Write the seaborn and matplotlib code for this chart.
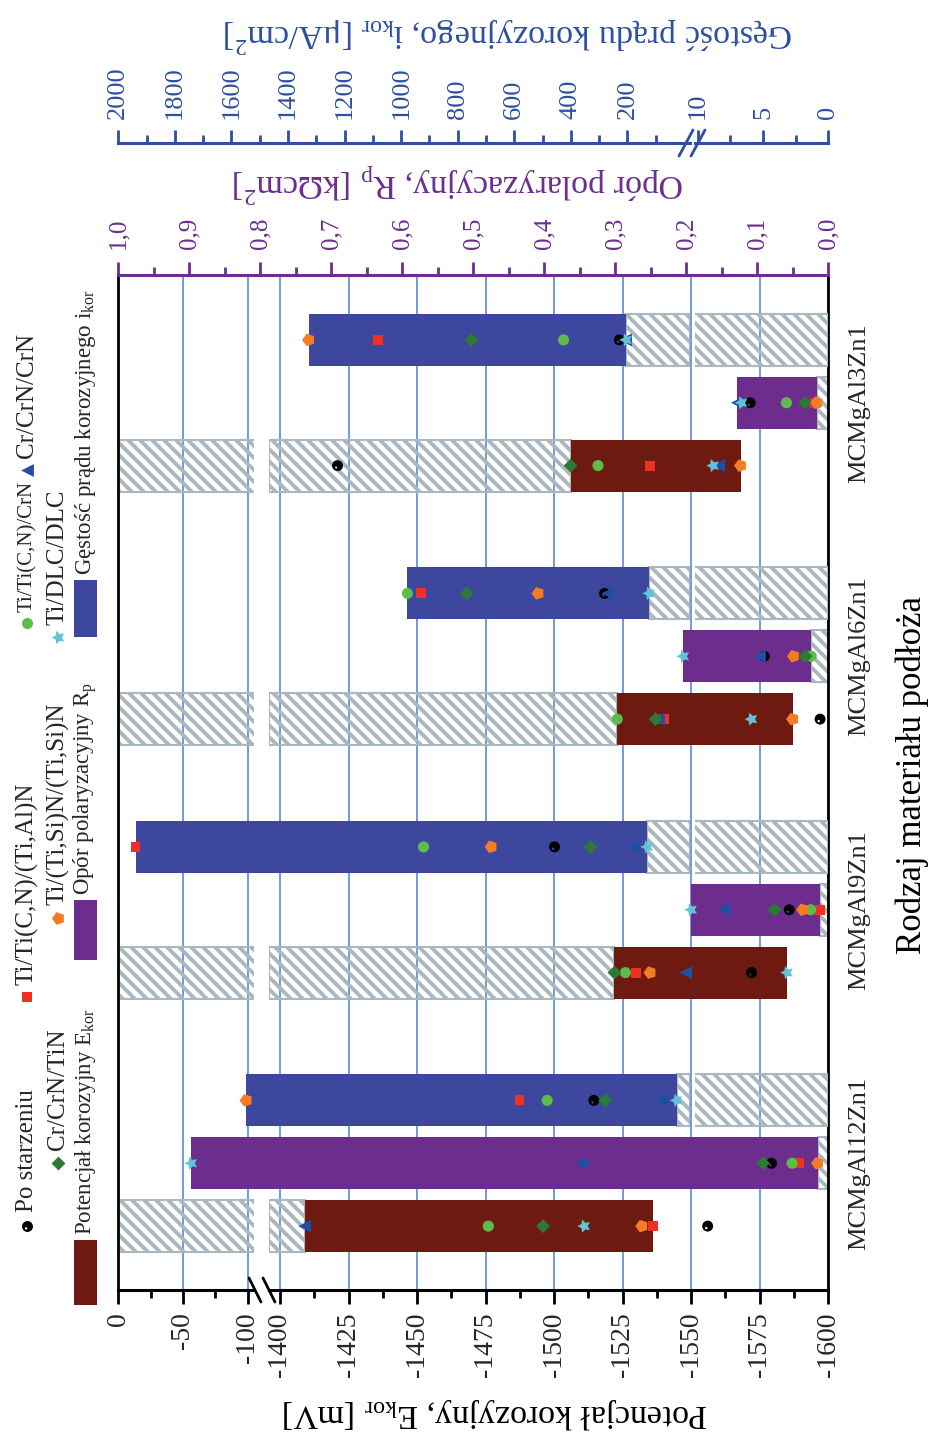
import matplotlib
matplotlib.use("Agg")
import matplotlib.pyplot as plt
from matplotlib.path import Path
from matplotlib.patches import Rectangle
from matplotlib.ticker import FixedLocator, FuncFormatter
import numpy as np
import pandas as pd
import seaborn as sns

materials = ["MCMgAl12Zn1", "MCMgAl9Zn1", "MCMgAl6Zn1", "MCMgAl3Zn1"]
coatings = ["Po starzeniu", "Ti/Ti(C,N)/(Ti,Al)N", "Ti/Ti(C,N)/CrN", "Cr/CrN/CrN",
            "Cr/CrN/TiN", "Ti/(Ti,Si)N/(Ti,Si)N", "Ti/DLC/DLC"]

# corrosion potential E_kor [mV], one value per entry of `coatings`
ekor_al12 = [-1556, -1536, -1476, -1409, -1496, -1532, -1511]
ekor_al9 = [-1572, -1530, -1526, -1548, -1522, -1535, -1585]
ekor_al6 = [-1597, -1540, -1523, -1538, -1537, -1587, -1572]
ekor_al3 = [-1421, -1535, -1516, -1560, -1506, -1568, -1558]

# polarisation resistance R_p [kOhm cm2]
rp_al12 = [0.080, 0.041, 0.051, 0.348, 0.092, 0.015, 0.897]
rp_al9 = [0.055, 0.012, 0.025, 0.147, 0.076, 0.036, 0.193]
rp_al6 = [0.090, 0.028, 0.024, 0.097, 0.032, 0.049, 0.204]
rp_al3 = [0.110, 0.019, 0.059, 0.128, 0.033, 0.016, 0.122]

# corrosion current density i_kor [uA/cm2]
ikor_al12 = [319, 582, 484, 79, 278, 1548, 26]
ikor_al9 = [458, 1939, 921, 179, 331, 682, 130]
ikor_al6 = [281, 930, 978, 269, 768, 516, 123]
ikor_al3 = [229, 1082, 426, 207, 752, 1327, 204]

# ---------------------------------------------------------------- styling
DPI = 72
P = 100 / DPI          # sizes below are tuned in 1/100-inch pixels
sns.set_theme(style="white")
plt.rcParams["font.family"] = ["Liberation Serif", "DejaVu Serif"]
plt.rcParams["mathtext.fontset"] = "custom"
plt.rcParams["mathtext.rm"] = "Liberation Serif"
plt.rcParams["axes.unicode_minus"] = False
plt.rcParams["hatch.linewidth"] = 3.8

BROWN, PURPLE, BLUE = "#6e1a10", "#6c2d8c", "#3d479d"
AX_PURPLE, AX_BLUE = "#6c2d90", "#2c4fa3"
GRID = "#4a7ed6"
HATCH = "#abb7bf"

# aged-sample marker: black ball with a small highlight
ball = Path.circle((0, 0), 1.0)
spot = Path.circle((-0.25, -0.35), 0.22)
ball_marker = Path(np.concatenate([ball.vertices, spot.vertices[::-1]]),
                   np.concatenate([ball.codes, spot.codes]))

palette = dict(zip(coatings, ["#000000", "#ef3124", "#5cbd4a", "#1f4ea6",
                              "#2c7a35", "#f67b22", "#5fc4d8"]))
markers = dict(zip(coatings, [ball_marker, "s", "o", "<", "D", (5, 0, 90), (5, 1, 90)]))
sizes = {k: v * P * P for k, v in
         zip(coatings, [62, 50, 64, 85, 50, 90, 100])}

bar_h = 0.205
W, H = 931, 1434
Y_TOP, Y_BOT = 275, 1290


def tidy(rows, offset):
    frames = [pd.DataFrame({"material": materials[m], "coating": coatings,
                            "value": vals, "pos": m + offset})
              for m, vals in enumerate(rows)]
    return pd.concat(frames, ignore_index=True)


ekor = tidy([ekor_al12, ekor_al9, ekor_al6, ekor_al3], -0.248)
rp = tidy([rp_al12, rp_al9, rp_al6, rp_al3], 0.0)
ikor = tidy([ikor_al12, ikor_al9, ikor_al6, ikor_al3], 0.248)

fig = plt.figure(figsize=(W / DPI, H / DPI), dpi=DPI)


def rect(x0, x1):
    return [x0 / W, 1 - Y_BOT / H, (x1 - x0) / W, (Y_BOT - Y_TOP) / H]


ax_e_hi = fig.add_axes(rect(118.3, 254))
ax_e_lo = fig.add_axes(rect(269, 828.3))
ax_rp = fig.add_axes(rect(118.3, 828.3))
ax_i_hi = fig.add_axes(rect(118.3, 690))
ax_i_lo = fig.add_axes(rect(695, 828.3))
all_axes = (ax_e_hi, ax_e_lo, ax_rp, ax_i_hi, ax_i_lo)

for ax in all_axes:
    ax.set_facecolor("none")
    for s in ax.spines.values():
        s.set_visible(False)


def draw_quantity(axes, df, face):
    """Floating bar over the coating range, hatched from the segment start."""
    coated = df[df["coating"] != coatings[0]]
    g = coated.groupby("pos")["value"]
    lo, hi = g.min(), g.max()
    pos = lo.index.values
    first_small = np.abs(lo.values) < np.abs(hi.values)
    near = np.where(first_small, lo.values, hi.values)
    far = np.where(first_small, hi.values, lo.values)
    for ax, lims in axes:
        seg_start = min(lims, key=abs)
        ax.set_xlim(*lims)
        ax.barh(pos, near - seg_start, left=seg_start, height=bar_h,
                facecolor="none", edgecolor=HATCH, hatch="\\\\",
                linewidth=1.5 * P, zorder=2)
        ax.barh(pos, far - near, left=near, height=bar_h, color=face,
                linewidth=0, zorder=3)
        a, b = sorted(lims)
        sel = df[(df["value"] >= a) & (df["value"] <= b)]
        if len(sel):
            sns.scatterplot(data=sel, x="value", y="pos", hue="coating",
                            style="coating", size="coating", palette=palette,
                            markers=markers, sizes=sizes, linewidth=0,
                            legend=False, ax=ax, zorder=5, clip_on=False)
        ax.set_xlim(*lims)
        ax.set_xlabel("")
        ax.set_ylabel("")
        ax.set_yticks([])


draw_quantity([(ax_e_hi, (0, -105)), (ax_e_lo, (-1396, -1600))], ekor, BROWN)
draw_quantity([(ax_rp, (1.0, 0.0))], rp, PURPLE)
draw_quantity([(ax_i_hi, (2000, -21)), (ax_i_lo, (10.2, 0))], ikor, BLUE)

for ax in all_axes:
    ax.set_ylim(-0.5, 3.504)

# ------------------------------------------------- E_kor axis (bottom, broken)
ax_e_hi.xaxis.set_major_locator(FixedLocator([0, -50, -100]))
ax_e_hi.xaxis.set_minor_locator(FixedLocator([-25, -75]))
ax_e_lo.xaxis.set_major_locator(FixedLocator(np.arange(-1400, -1601, -25)))
ax_e_lo.xaxis.set_minor_locator(FixedLocator(np.arange(-1412.5, -1600, -25)))
for ax in (ax_e_hi, ax_e_lo):
    ax.spines["bottom"].set_visible(True)
    ax.spines["bottom"].set_color("black")
    ax.spines["bottom"].set_linewidth(2.2 * P)
    ax.xaxis.set_major_formatter(FuncFormatter(lambda v, p: f"{v:.0f}"))
    ax.tick_params(axis="x", which="major", direction="out", length=10 * P,
                   width=2 * P, color="black", labelsize=20 * P, pad=6 * P,
                   labelrotation=90, bottom=True, top=False)
    ax.tick_params(axis="x", which="minor", direction="out", length=6 * P,
                   width=2 * P, color="black", bottom=True, top=False)
    ax.grid(axis="x", which="major", color=GRID, linewidth=1.1 * P)
    ax.set_axisbelow(True)

# ----------------------------------------------------- R_p axis (top, purple)
ax_rp.xaxis.tick_top()
ax_rp.xaxis.set_major_locator(FixedLocator(np.round(np.arange(0, 1.01, 0.1), 2)))
ax_rp.xaxis.set_minor_locator(FixedLocator(np.round(np.arange(0.05, 1.0, 0.1), 3)))
ax_rp.xaxis.set_major_formatter(FuncFormatter(lambda v, p: f"{v:.1f}".replace(".", ",")))
ax_rp.spines["top"].set_visible(True)
ax_rp.spines["top"].set_color(AX_PURPLE)
ax_rp.spines["top"].set_linewidth(2.2 * P)
for side in ("left", "right"):
    ax_rp.spines[side].set_visible(True)
    ax_rp.spines[side].set_color("black")
    ax_rp.spines[side].set_linewidth(2.0 * P)
ax_rp.tick_params(axis="x", which="major", direction="out", length=9.5 * P,
                  width=2 * P, color=AX_PURPLE, labelcolor=AX_PURPLE,
                  labelsize=18 * P, pad=9 * P, labelrotation=90, top=True,
                  bottom=False, labeltop=True, labelbottom=False)
ax_rp.tick_params(axis="x", which="minor", direction="out", length=5.5 * P,
                  width=2 * P, color=AX_PURPLE, top=True, bottom=False)

# category labels on the right
ax_rp.yaxis.tick_right()
ax_rp.set_yticks(range(len(materials)))
ax_rp.set_yticklabels(materials, rotation=90, va="center", fontsize=19 * P)
ax_rp.tick_params(axis="y", length=0, pad=14 * P, right=True, left=False,
                  labelright=True, labelleft=False)

# --------------------------------------------- i_kor axis (offset top, blue)
ax_i_hi.xaxis.set_major_locator(FixedLocator(np.arange(200, 2001, 200)))
ax_i_hi.xaxis.set_minor_locator(FixedLocator(np.arange(100, 2000, 200)))
ax_i_lo.xaxis.set_major_locator(FixedLocator([0, 5, 10]))
ax_i_lo.xaxis.set_minor_locator(FixedLocator([2.5, 7.5]))
for ax in (ax_i_hi, ax_i_lo):
    ax.xaxis.tick_top()
    ax.spines["top"].set_visible(True)
    ax.spines["top"].set_position(("outward", 94.8 * P))
    ax.spines["top"].set_color(AX_BLUE)
    ax.spines["top"].set_linewidth(2.2 * P)
    ax.xaxis.set_major_formatter(FuncFormatter(lambda v, p: f"{v:.0f}"))
    ax.tick_params(axis="x", which="major", direction="out", length=9.5 * P,
                   width=2 * P, color=AX_BLUE, labelcolor=AX_BLUE,
                   labelsize=19 * P, pad=8 * P, labelrotation=90, top=True,
                   bottom=False, labeltop=True, labelbottom=False)
    ax.tick_params(axis="x", which="minor", direction="out", length=5.5 * P,
                   width=2 * P, color=AX_BLUE, top=True, bottom=False)

# ------------------------------------------ overlay: titles, breaks, legend
ov = fig.add_axes([0, 0, 1, 1], zorder=10)
ov.set_xlim(0, W)
ov.set_ylim(H, 0)
ov.axis("off")

ov.text(509, 35, r"Gęstość prądu korozyjnego, i$_\mathregular{kor}$ [μA/cm$^\mathregular{2}$]",
        rotation=180, ha="center", va="center", fontsize=24.5 * P, color=AX_BLUE)
ov.text(458, 183, r"Opór polaryzacyjny, R$_\mathregular{p}$ [kΩcm$^\mathregular{2}$]",
        rotation=180, ha="center", va="center", fontsize=24.5 * P, color=AX_PURPLE)
ov.text(495, 1413, r"Potencjał korozyjny, E$_\mathregular{kor}$ [mV]",
        rotation=180, ha="center", va="center", fontsize=24.5 * P, color="black")
ov.text(912, 775, "Rodzaj materiału podłoża", rotation=90, ha="center",
        va="center", fontsize=25 * P, color="black")

# axis break marks
for xc in (255, 269):
    ov.plot([xc - 6, xc + 6], [Y_BOT - 12, Y_BOT + 12], color="black", lw=2 * P)
for xc in (686, 698):
    ov.plot([xc - 7, xc + 7], [143 + 13, 143 - 13], color=AX_BLUE, lw=2 * P)

# legend: (entry, column x, marker y, text start y, font size)
legend_marks = [
    (coatings[0], 27, 1226, 1212, 18), (coatings[1], 27, 997, 985, 18),
    (coatings[2], 27, 623, 612, 15), (coatings[3], 27, 470, 458, 18),
    (coatings[4], 58, 1163, 1150, 18), (coatings[5], 58, 918, 905, 18),
    (coatings[6], 58, 637, 625, 18),
]
for name, x, ym, yt, fs in legend_marks:
    ov.scatter([x], [ym], marker=markers[name], s=sizes[name],
               color=palette[name], linewidth=0)
    ov.text(x, yt, name, rotation=90, ha="center", va="bottom", fontsize=fs * P)

legend_bars = [
    (BROWN, 1240, 1305, r"Potencjał korozyjny E$_\mathregular{kor}$", 1235),
    (PURPLE, 900, 960, r"Opór polaryzacyjny R$_\mathregular{p}$", 895),
    (BLUE, 580, 637, r"Gęstość prądu korozyjnego i$_\mathregular{kor}$", 575),
]
for col, y0, y1, label, yt in legend_bars:
    ov.add_patch(Rectangle((74, y0), 23, y1 - y0, color=col, linewidth=0))
    ov.text(86, yt, label, rotation=90, ha="center", va="bottom", fontsize=16.5 * P)

fig.savefig("out.png", dpi=DPI, facecolor="white")
